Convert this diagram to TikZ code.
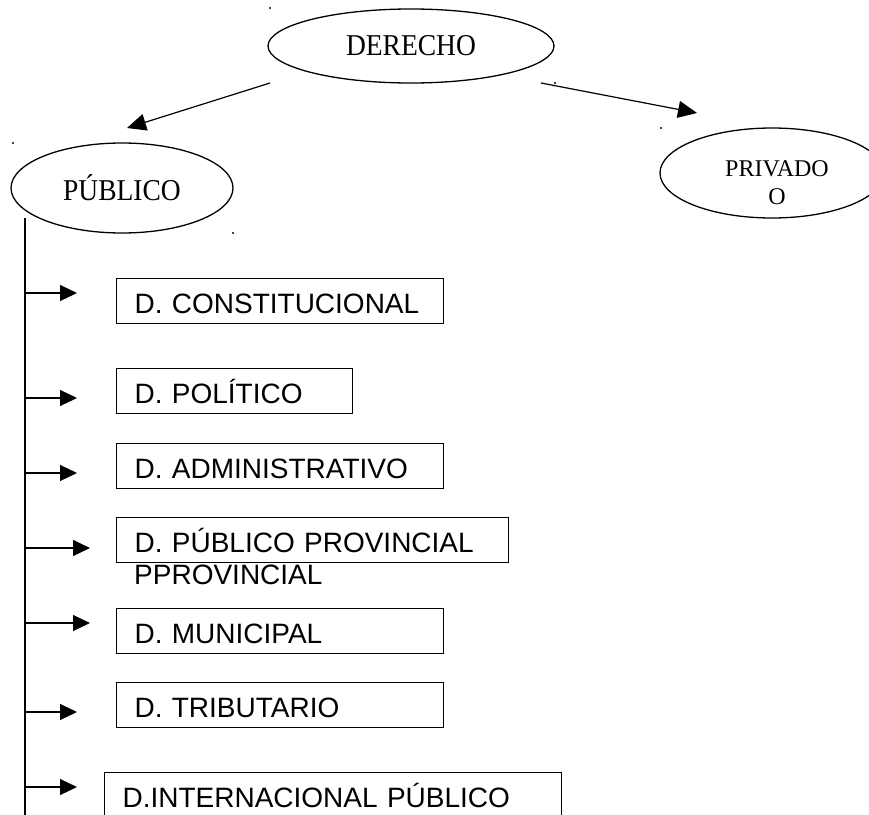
\documentclass[tikz,border=0pt]{standalone}
\usepackage{fontspec}
\setmainfont{Liberation Serif}
\setsansfont{Liberation Sans}
\usetikzlibrary{shapes.geometric,arrows.meta}
\tikzset{
  rama/.style={draw, ellipse, line width=1.3pt, inner sep=0pt,
    font=\fontsize{27.5}{32}\selectfont},
  caja/.style={draw, line width=1.1pt, anchor=north west, align=left,
    minimum height=45pt, inner xsep=18pt, inner ysep=0pt,
    text height=25pt, text depth=0pt,
    font=\sffamily\fontsize{28}{32}\selectfont},
  flecha/.style={line width=1.1pt, -{Triangle[length=17pt,width=16pt]}}
}
\begin{document}
\begin{tikzpicture}[x=1pt,y=-1pt]
        \useasboundingbox[fill=white] (0,0) rectangle (869,814);
        % ramas del derecho
        \node[rama, minimum width=286pt, minimum height=74pt] (derecho) at (411,46) {\scalebox{1}[1.1]{DERECHO}};
        \node[rama, minimum width=222pt, minimum height=90pt] (publico) at (122,188) {\scalebox{1}[1.1]{PÚBLICO}};
        \node[rama, minimum width=224pt, minimum height=90pt] (privado) at (772,173) {};
        \node[align=center, inner sep=0pt, font=\fontsize{24}{28}\selectfont]
          (privadotxt) at (777,183) {PRIVADO\\O};
        \coordinate (izq) at (270,83);
        \coordinate (der) at (541,83);
        \draw[line width=1.2pt, -{Triangle[length=19pt,width=17pt]}] (izq) -- (127,128) coordinate (pub);
        \draw[line width=1.2pt, -{Triangle[length=19pt,width=17pt]}] (der) -- (697,113) coordinate (pri);
        % puntos sueltos
        \foreach \x/\y in {270/8, 555/83, 13/143, 233/233, 661/128}{
          \fill[black] (\x,\y) circle (1.2pt);
        }
        % cajas
        \node[caja, text width=291pt] (constitucional) at (116,278) {D. CONSTITUCIONAL};
        \node[caja, text width=200pt] (politico) at (116,368) {D. POLÍTICO};
        \node[caja, text width=291pt] (administrativo) at (116,443) {D. ADMINISTRATIVO};
        \node[caja, text width=356pt] (provincial) at (116,517) {D. PÚBLICO PROVINCIAL};
        \node[anchor=base west, inner sep=0pt, font=\sffamily\fontsize{28}{32}\selectfont]
          (pprovincial) at (134,584) {PPROVINCIAL};
        \node[caja, text width=291pt] (municipal) at (116,608) {D. MUNICIPAL};
        \node[caja, text width=291pt] (tributario) at (116,682) {D. TRIBUTARIO};
        \node[caja, text width=421pt, minimum height=70pt, text depth=25pt]
          (internacional) at (104,772) {D.INTERNACIONAL PÚBLICO};
        % linea vertical y flechas
        \coordinate (arriba) at (25,218);
        \coordinate (abajo) at (25,830);
        \draw[line width=1.1pt] (arriba) -- (abajo);
        \foreach \y/\t [count=\i] in {293/77, 398/77, 473/77, 548/90, 623/90, 712/77, 787/77}{
          \coordinate (s\i) at (25,\y);
          \coordinate (t\i) at (\t,\y);
          \draw[flecha] (s\i) -- (t\i);
        }
      \end{tikzpicture}
\end{document}
